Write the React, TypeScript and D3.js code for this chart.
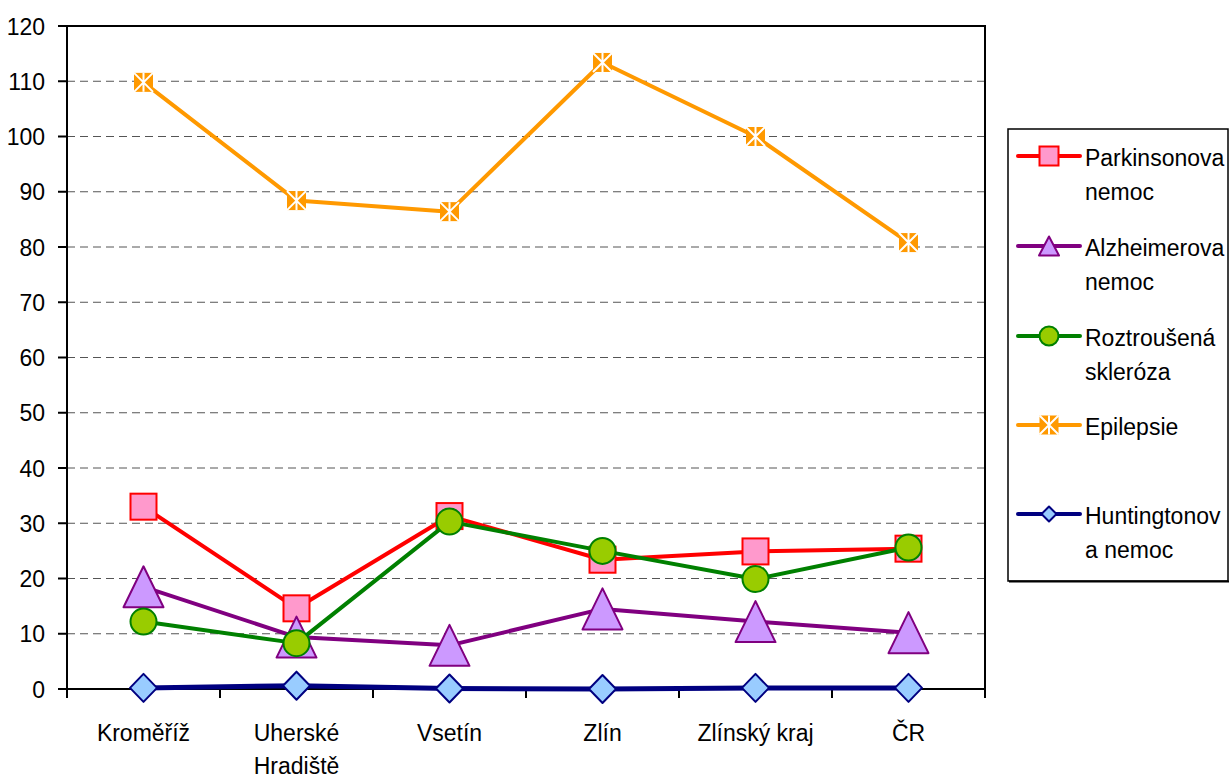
import React from 'react';
import * as d3 from 'd3';

// okresy + kraj + republika
const categories = ['Kroměříž', 'Uherské Hradiště', 'Vsetín', 'Zlín', 'Zlínský kraj', 'ČR'];
const categoryLines = [['Kroměříž'], ['Uherské', 'Hradiště'], ['Vsetín'], ['Zlín'], ['Zlínský kraj'], ['ČR']];

const parkinson = [33.0, 14.6, 31.3, 23.4, 24.9, 25.4];
const alzheimer = [18.5, 9.4, 7.9, 14.5, 12.2, 10.2];
const sclerosis = [12.2, 8.3, 30.3, 25.0, 19.9, 25.6];
const epilepsy = [109.8, 88.4, 86.4, 113.4, 100.0, 80.8];
const huntington = [0.2, 0.6, 0.1, 0.0, 0.2, 0.2];

const yTicks = [0, 10, 20, 30, 40, 50, 60, 70, 80, 90, 100, 110, 120];

type Shape = 'square' | 'triangle' | 'circle' | 'star' | 'diamond';

const series = [
  { name: ['Parkinsonova', 'nemoc'], values: parkinson, color: '#FF0000', fill: '#FF99CC', shape: 'square' as Shape, width: 4 },
  { name: ['Alzheimerova', 'nemoc'], values: alzheimer, color: '#800080', fill: '#CC99FF', shape: 'triangle' as Shape, width: 4 },
  { name: ['Roztroušená', 'skleróza'], values: sclerosis, color: '#008000', fill: '#99CC00', shape: 'circle' as Shape, width: 4 },
  { name: ['Epilepsie'], values: epilepsy, color: '#FF9900', fill: '#FF9900', shape: 'star' as Shape, width: 4 },
  { name: ['Huntingtonov', 'a nemoc'], values: huntington, color: '#000080', fill: '#99CCFF', shape: 'diamond' as Shape, width: 5 },
];

const FONT = '"Liberation Sans", Arial, sans-serif';

function Label({ x, y, anchor = 'start', children }: any) {
  return (
    <text
      transform={`translate(${x},${y}) scale(1,1.08)`}
      textAnchor={anchor}
      fontFamily={FONT}
      fontSize={23}
      fill="#000"
    >
      {children}
    </text>
  );
}

function Marker({ shape, x, y, color, fill, small }: any) {
  const t = `translate(${x},${y})`;
  if (shape === 'square') {
    const h = small ? 9.5 : 13;
    return <rect transform={t} x={-h} y={-h} width={2 * h} height={2 * h} fill={fill} stroke={color} strokeWidth={2} />;
  }
  if (shape === 'triangle') {
    const w = small ? 10 : 20;
    const hh = small ? 9.5 : 20.5;
    return <path transform={t} d={`M0,${-hh}L${w},${hh}L${-w},${hh}Z`} fill={fill} stroke={color} strokeWidth={2} strokeLinejoin="round" />;
  }
  if (shape === 'circle') {
    return <circle transform={t} r={small ? 9.5 : 13} fill={fill} stroke={color} strokeWidth={2} />;
  }
  if (shape === 'diamond') {
    const w = small ? 7.5 : 13.5;
    const hh = small ? 7.5 : 14;
    return <path transform={t} d={`M0,${-hh}L${w},0L0,${hh}L${-w},0Z`} fill={fill} stroke={color} strokeWidth={2} strokeLinejoin="round" />;
  }
  // star: orange square with white X and vertical stroke
  const h = 9.5;
  return (
    <g transform={t}>
      <rect x={-h} y={-h} width={2 * h} height={2 * h} fill={fill} />
      <path d={`M${-h},${-h}L${h},${h}M${h},${-h}L${-h},${h}M0,${-h}V${h}`} stroke="#fff" strokeWidth={2} />
    </g>
  );
}

export default function App() {
  const left = 67;
  const right = 985;
  const top = 26;
  const bottom = 689;

  const x = d3.scaleBand<string>().domain(categories).range([left, right]);
  const y = d3.scaleLinear().domain([0, 120]).range([bottom, top]);
  const cx = (c: string) => (x(c) as number) + x.bandwidth() / 2;

  const line = d3
    .line<number>()
    .x((_, i) => cx(categories[i]))
    .y((d) => y(d));

  const boundaries = d3.range(categories.length + 1).map((i) => left + i * x.bandwidth());

  const legendY = [156, 246, 336, 425, 514];

  return (
    <svg width={1230} height={778} style={{ position: 'absolute', left: 0, top: 0, background: '#fff' }}>
      {/* grid */}
      {yTicks.slice(1, -1).map((t) => (
        <line key={t} x1={left} x2={right} y1={y(t)} y2={y(t)} stroke="#555" strokeWidth={1} strokeDasharray="8,5" />
      ))}

      {/* plot frame */}
      <path d={`M${left},${top}H${right}V${bottom}`} fill="none" stroke="#000" strokeWidth={2} />
      <line x1={left} x2={left} y1={top} y2={bottom} stroke="#000" strokeWidth={2} />
      <line x1={left} x2={right} y1={bottom} y2={bottom} stroke="#000" strokeWidth={2} />

      {/* y axis */}
      {yTicks.map((t) => (
        <g key={t}>
          <line x1={58} x2={left} y1={y(t)} y2={y(t)} stroke="#000" strokeWidth={2} />
          <Label x={45} y={y(t) + 8.5} anchor="end">{t}</Label>
        </g>
      ))}

      {/* x axis */}
      {boundaries.map((b, i) => (
        <line key={i} x1={b} x2={b} y1={bottom} y2={bottom + 9} stroke="#000" strokeWidth={2} />
      ))}
      {categoryLines.map((lines, i) =>
        lines.map((l, j) => (
          <Label key={`${i}-${j}`} x={cx(categories[i])} y={741 + j * 33} anchor="middle">{l}</Label>
        ))
      )}

      {/* series */}
      {series.map((s) => (
        <g key={s.name.join(' ')}>
          <path d={line(s.values) as string} fill="none" stroke={s.color} strokeWidth={s.width} strokeLinejoin="round" />
          {s.values.map((v, i) => (
            <Marker key={i} shape={s.shape} x={cx(categories[i])} y={y(v)} color={s.color} fill={s.fill} />
          ))}
        </g>
      ))}

      {/* legend */}
      <rect x={1008} y={129} width={220} height={452} fill="#fff" stroke="#000" strokeWidth={1.5} />
      <line x1={1009} x2={1229} y1={581.5} y2={581.5} stroke="#000" strokeWidth={2} />
      {series.map((s, i) => (
        <g key={i}>
          <line x1={1018} x2={1080} y1={legendY[i]} y2={legendY[i]} stroke={s.color} strokeWidth={4} strokeLinecap="round" />
          <Marker shape={s.shape} x={1049} y={legendY[i]} color={s.color} fill={s.fill} small />
          {s.name.map((n, j) => (
            <Label key={j} x={1085} y={legendY[i] + 10 + j * 34}>{n}</Label>
          ))}
        </g>
      ))}
    </svg>
  );
}
